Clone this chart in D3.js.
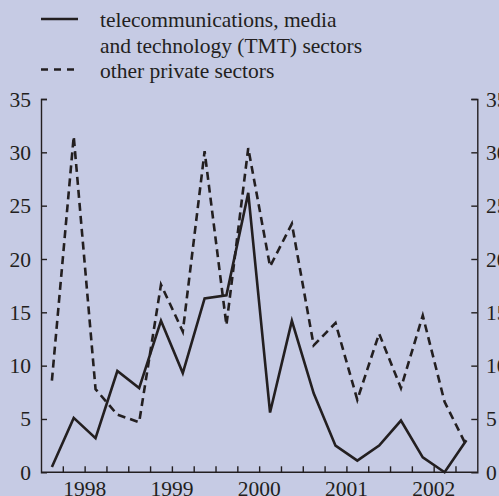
<!DOCTYPE html>
<html><head><meta charset="utf-8">
<script src="https://cdn.jsdelivr.net/npm/d3@7"></script>
<style>
html,body{margin:0;padding:0;background:#c6cbe4;}
svg{display:block;}
</style></head>
<body>
<svg id="chart" width="499" height="496"></svg>
<script>
const quarters = ["1998Q1","1998Q2","1998Q3","1998Q4","1999Q1","1999Q2","1999Q3","1999Q4",
  "2000Q1","2000Q2","2000Q3","2000Q4","2001Q1","2001Q2","2001Q3","2001Q4",
  "2002Q1","2002Q2","2002Q3","2002Q4"];
const tmt = [0.5,5.1,3.2,9.5,7.9,14.2,9.3,16.3,16.6,26.2,5.6,14.2,7.4,2.5,1.1,2.5,4.85,1.4,0.0,3.0];
const otherPrivate = [8.6,31.5,7.8,5.4,4.7,17.6,13.2,30.1,13.8,30.4,19.3,23.3,11.9,14.0,6.8,13.0,7.9,14.7,6.6,2.5];
const yTicks = [0,5,10,15,20,25,30,35];
const yearLabels = ["1998","1999","2000","2001","2002"];
const legendLabels = [["telecommunications, media","and technology (TMT) sectors"],["other private sectors"]];

(function(){
const FONT = "'Liberation Serif', 'DejaVu Serif', serif";
const FS = 21.5;
const svg = d3.select("#chart").attr("font-family",FONT);
const W = 499, H = 496;
svg.append("rect").attr("width",W).attr("height",H).attr("fill","#c6cbe4");

const pl = 41, pr = 477.3, pt = 99, pb = 472.3;
const qx = q => +q.slice(0,4) + (+q.slice(5) - 0.5)/4;
const x = d3.scaleLinear().domain([1998,2003]).range([pl,pr]);
const y = d3.scaleLinear().domain([0,35]).range([pb,pt]);
const ink = "#231f20";

// axes
const qTicks = d3.range(1998.25, 2002.99, 0.25);
const gx = svg.append("g").attr("transform",`translate(0,${pb})`)
  .call(d3.axisBottom(x).tickValues(qTicks).tickSize(-6).tickFormat(""));
gx.select(".domain").attr("d",`M${pl},0H${pr}`);
const yl = svg.append("g").attr("transform",`translate(${pl},0)`)
  .call(d3.axisLeft(y).tickValues(yTicks).tickSize(-6).tickFormat(""));
const yr = svg.append("g").attr("transform",`translate(${pr},0)`)
  .call(d3.axisRight(y).tickValues(yTicks).tickSize(-6).tickFormat(""));
[gx,yl,yr].forEach(g=>{
  g.selectAll("path.domain").attr("stroke",ink).attr("stroke-width",1.4);
  g.selectAll(".tick line").attr("stroke",ink).attr("stroke-width",1.4);
});
yl.select(".tick:first-of-type line").remove();
yr.select(".tick:first-of-type line").remove();

const txt = sel => sel.style("font-family",FONT).attr("font-size",FS).attr("fill",ink);

// tick labels
svg.append("g").selectAll("text").data(yTicks).join("text")
  .attr("x",31).attr("y",d=>y(d)).attr("dy","0.35em").attr("text-anchor","end")
  .call(txt).text(d=>d);
svg.append("g").selectAll("text").data(yTicks).join("text")
  .attr("x",486).attr("y",d=>y(d)).attr("dy","0.35em").attr("text-anchor","start")
  .call(txt).text(d=>d);
svg.append("g").selectAll("text").data(yearLabels).join("text")
  .attr("x",d=>x(+d+0.5)).attr("y",495.5).attr("text-anchor","middle")
  .call(txt).text(d=>d);

// lines
const line = d3.line().x((d,i)=>x(qx(quarters[i]))).y(d=>y(d));
svg.append("path").datum(otherPrivate).attr("d",line).attr("fill","none")
  .attr("stroke",ink).attr("stroke-width",2.6).attr("stroke-dasharray","8,5");
svg.append("path").datum(tmt).attr("d",line).attr("fill","none")
  .attr("stroke",ink).attr("stroke-width",2.6).attr("stroke-linejoin","miter");

// legend
const lg = svg.append("g");
lg.append("line").attr("x1",41).attr("x2",78).attr("y1",19).attr("y2",19)
  .attr("stroke",ink).attr("stroke-width",2.6);
lg.append("line").attr("x1",41).attr("x2",78).attr("y1",69.5).attr("y2",69.5)
  .attr("stroke",ink).attr("stroke-width",2.6).attr("stroke-dasharray","7,6");
const legLines = [legendLabels[0][0], legendLabels[0][1], legendLabels[1][0]];
lg.selectAll("text").data(legLines).join("text")
  .attr("x",100).attr("y",(d,i)=>27+i*25.5).call(txt).text(d=>d);
})();
</script>
</body></html>
